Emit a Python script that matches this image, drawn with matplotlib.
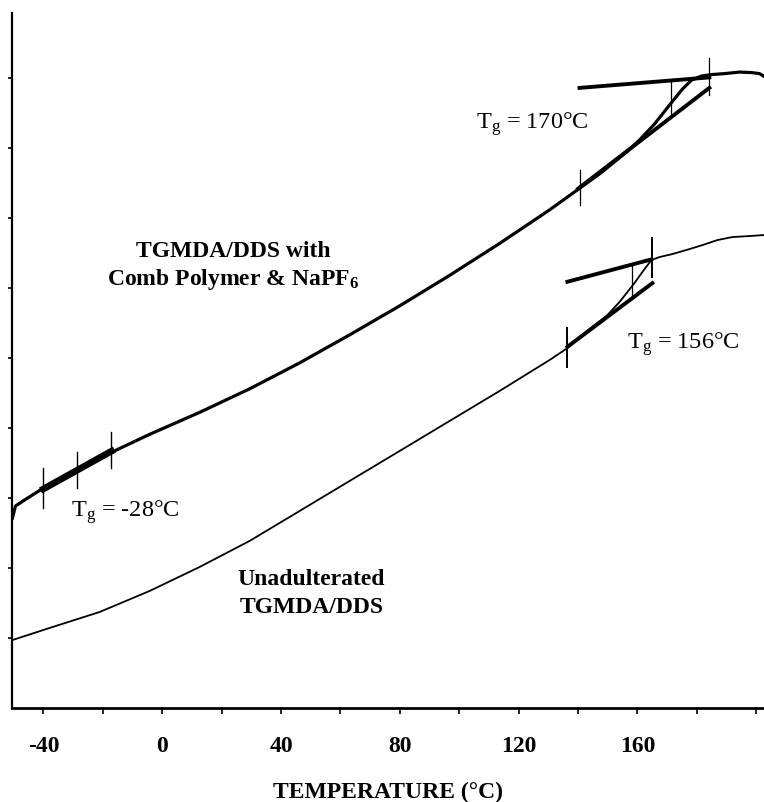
import matplotlib
matplotlib.use("Agg")
import matplotlib.pyplot as plt

plt.rcParams['font.family'] = ['Liberation Serif', 'DejaVu Serif']
plt.rcParams['mathtext.fontset'] = 'custom'
plt.rcParams['mathtext.rm'] = 'Liberation Serif'
plt.rcParams['mathtext.it'] = 'Liberation Serif:italic'
plt.rcParams['mathtext.bf'] = 'Liberation Serif:bold'

# ---- data (temperature in deg C, heat flow in arbitrary units) ----
comb_T = [-50.44, -49.43, -46.40, -40.00, -28.55, -17.10, -4.31, 12.53, 29.36,
          46.20, 63.03, 79.87, 96.70, 113.54, 130.37, 147.21, 156.30, 160.67,
          165.72, 170.77, 175.15, 178.18, 181.55, 184.92, 189.29, 194.34,
          198.38, 201.08, 202.42]
comb_Y = [2.714, 2.886, 2.971, 3.143, 3.400, 3.653, 3.909, 4.223, 4.559,
          4.930, 5.330, 5.744, 6.180, 6.637, 7.116, 7.630, 7.943, 8.114,
          8.343, 8.614, 8.843, 8.971, 9.029, 9.050, 9.064, 9.086,
          9.079, 9.064, 9.029]

neat_T = [-50.44, -37.98, -21.14, -4.31, 12.53, 29.36, 46.20, 63.03, 79.87,
          96.70, 113.54, 130.37, 136.43, 140.47, 145.52, 149.56, 153.94,
          158.99, 162.36, 164.71, 167.41, 171.78, 177.50, 181.88, 186.93,
          191.98, 197.70, 202.42]
neat_Y = [0.971, 1.143, 1.371, 1.671, 2.014, 2.386, 2.814, 3.243, 3.671,
          4.100, 4.529, 4.971, 5.143, 5.300, 5.471, 5.600, 5.800,
          6.071, 6.271, 6.400, 6.443, 6.486, 6.557, 6.614, 6.686,
          6.729, 6.743, 6.757]

# Tg construction lines
comb_low_tan_T = [140.0, 184.2]
comb_low_tan_Y = [7.42, 8.86]
comb_up_tan_T = [140.5, 184.2]
comb_up_tan_Y = [8.86, 9.01]
comb_tg_T = [171.4, 171.4]
comb_tg_Y = [8.44, 8.97]
comb_marks_T = [140.5, 184.2]
comb_marks_Y = [(7.19, 7.69), (8.76, 9.29)]

neat_low_tan_T = [136.4, 165.0]
neat_low_tan_Y = [5.16, 6.07]
neat_up_tan_T = [136.4, 164.7]
neat_up_tan_Y = [6.09, 6.41]
neat_tg_T = [158.0, 158.0]
neat_tg_Y = [5.84, 6.34]
neat_marks_T = [136.4, 165.0]
neat_marks_Y = [(4.87, 5.43), (6.16, 6.71)]

low_tan_T = [-40.0, -17.1]
low_tan_Y = [3.13, 3.67]
low_marks_T = [-40.0, -28.6, -17.1]
low_marks_Y = [(2.86, 3.43), (3.14, 3.66), (3.43, 3.94)]

x_ticks = [-40, -20, 0, 20, 40, 60, 80, 100, 120, 140, 160, 180, 200]
x_labels = ['-40', '', '0', '', '40', '', '80', '', '120', '', '160', '', '']
y_ticks = [1, 2, 3, 4, 5, 6, 7, 8, 9]

fig = plt.figure(figsize=(7.64, 8.02), dpi=100)
ax = fig.add_axes([12 / 764, (802 - 708) / 802, 1 - 12 / 764, (708 - 13) / 802])

ax.plot(comb_T, comb_Y, color='black', lw=2.3, solid_joinstyle='round')
ax.plot(neat_T, neat_Y, color='black', lw=1.3, solid_joinstyle='round')

ax.plot(comb_low_tan_T, comb_low_tan_Y, color='black', lw=2.8)
ax.plot(comb_up_tan_T, comb_up_tan_Y, color='black', lw=2.8)
ax.plot(comb_tg_T, comb_tg_Y, color='black', lw=0.9)
for t, (a, b) in zip(comb_marks_T, comb_marks_Y):
    ax.plot([t, t], [a, b], color='black', lw=0.9)

ax.plot(neat_low_tan_T, neat_low_tan_Y, color='black', lw=2.8)
ax.plot(neat_up_tan_T, neat_up_tan_Y, color='black', lw=2.8)
ax.plot(neat_tg_T, neat_tg_Y, color='black', lw=0.9)
for t, (a, b) in zip(neat_marks_T, neat_marks_Y):
    ax.plot([t, t], [a, b], color='black', lw=1.4)

ax.plot(low_tan_T, low_tan_Y, color='black', lw=4.8)
for t, (a, b) in zip(low_marks_T, low_marks_Y):
    ax.plot([t, t], [a, b], color='black', lw=1.0)

ax.set_xlim(-50.6, 202.6)
ax.set_ylim(0, 9.93)
ax.spines['top'].set_visible(False)
ax.spines['right'].set_visible(False)
ax.spines['left'].set_linewidth(1.6)
ax.spines['bottom'].set_linewidth(2.0)

ax.set_xticks(x_ticks)
ax.set_xticklabels(x_labels, fontsize=17, fontweight='bold')
ax.set_yticks(y_ticks)
ax.set_yticklabels([])
ax.tick_params(axis='x', direction='out', length=4, width=1.2, pad=16)
ax.tick_params(axis='y', direction='out', length=3, width=1.2)
ax.set_xlabel('TEMPERATURE (°C)', fontsize=17, fontweight='bold', labelpad=18)

ax.text(24.0, 6.44, 'TGMDA/DDS with', fontsize=17, fontweight='bold', ha='center', va='baseline')
ax.text(24.0, 6.04, r'Comb Polymer & NaPF$_\mathbf{6}$', fontsize=17, fontweight='bold', ha='center', va='baseline')
ax.text(50.2, 1.76, 'Unadulterated', fontsize=17, fontweight='bold', ha='center', va='baseline')
ax.text(50.2, 1.36, 'TGMDA/DDS', fontsize=17, fontweight='bold', ha='center', va='baseline')

ax.text(105.5, 8.28, r'T$_\mathrm{g}$ = 170°C', fontsize=17.5, ha='left', va='baseline')
ax.text(156.6, 5.13, r'T$_\mathrm{g}$ = 156°C', fontsize=17.5, ha='left', va='baseline')
ax.text(-30.6, 2.74, r'T$_\mathrm{g}$ = -28°C', fontsize=17.5, ha='left', va='baseline')

fig.savefig('out.png', dpi=100)
